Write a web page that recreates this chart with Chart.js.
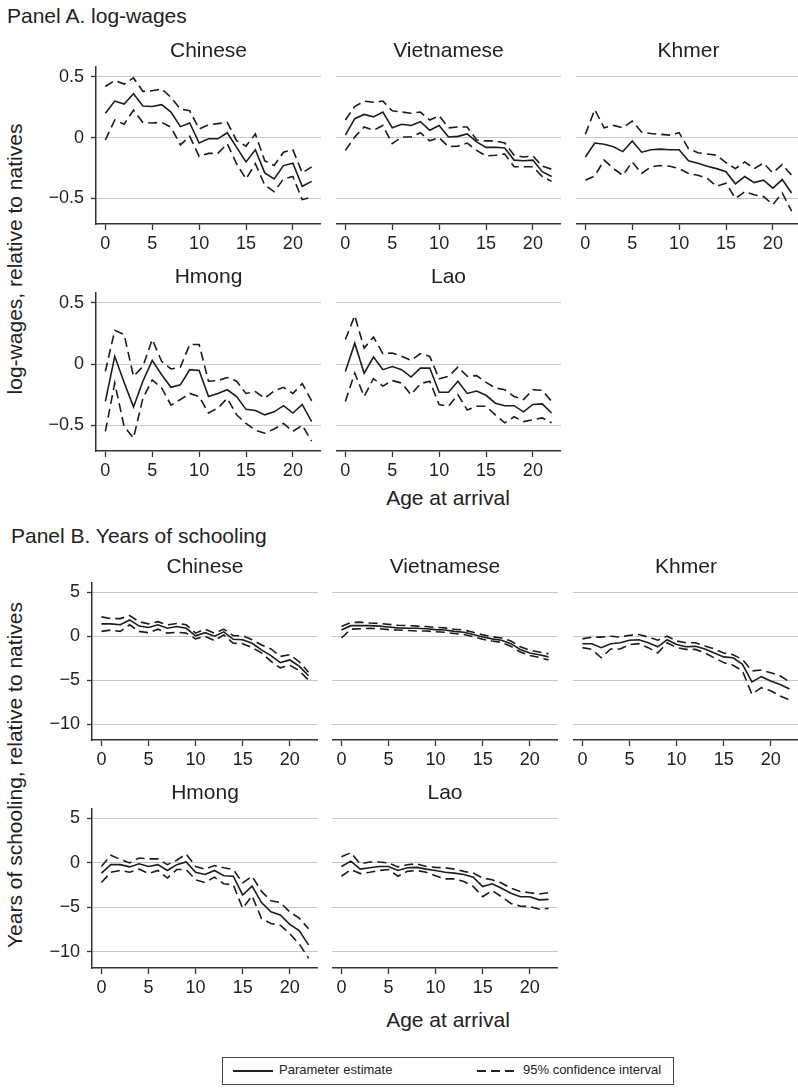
<!DOCTYPE html>
<html>
<head>
<meta charset="utf-8">
<script src="https://cdn.jsdelivr.net/npm/chart.js@4"></script>
<style>
html, body { margin:0; padding:0; background:#fff; width:798px; height:1091px; overflow:hidden; }
body { position:relative; font-family:"Liberation Sans", Arial, sans-serif; color:#222; }
canvas { position:absolute; }
.txt { position:absolute; white-space:nowrap; font-size:21px; line-height:1; }
.mid { transform:translate(-50%, -50%); }
.rot { transform:translate(-50%, -50%) rotate(-90deg); }
#legend { position:absolute; left:222px; top:1057px; width:452px; height:28px; border:1.5px solid #444; box-sizing:border-box; }
#legend .key { position:absolute; top:12px; width:40px; height:1.5px; }
#legend .solid { background:#222; }
#legend .dash { background:repeating-linear-gradient(to right, #222 0 9px, transparent 9px 14px); }
#legend .lt { position:absolute; top:5px; font-size:13px; line-height:1; white-space:nowrap; }
</style>
</head>
<body>
<div class="txt" style="left:7px; top:5px;">Panel A. log-wages</div>
<div class="txt rot" style="left:14px; top:259px;">log-wages, relative to natives</div>
<div class="txt mid" style="left:448px; top:497px;">Age at arrival</div>
<div class="txt" style="left:11px; top:525px;">Panel B. Years of schooling</div>
<div class="txt rot" style="left:14px; top:775px;">Years of schooling, relative to natives</div>
<div class="txt mid" style="left:448px; top:1019px;">Age at arrival</div>
<div id="legend">
  <div class="key solid" style="left:10px"></div>
  <div class="lt" style="left:56px">Parameter estimate</div>
  <div class="key dash" style="left:254px"></div>
  <div class="lt" style="left:300px">95% confidence interval</div>
</div>
<script>
// age at arrival, 0..22
const ages = [0,1,2,3,4,5,6,7,8,9,10,11,12,13,14,15,16,17,18,19,20,21,22];
const xTicks = [0,5,10,15,20];
const wageTicks = [-0.5,0,0.5];
const schoolTicks = [-10,-5,0,5];

// Panel A: log-wages
const chineseWageEst = [0.20,0.30,0.275,0.36,0.26,0.255,0.27,0.21,0.09,0.12,-0.045,-0.01,-0.01,0.04,-0.08,-0.20,-0.10,-0.29,-0.34,-0.23,-0.21,-0.40,-0.36];
const chineseWageHi  = [0.42,0.47,0.44,0.49,0.38,0.385,0.40,0.33,0.235,0.22,0.07,0.105,0.115,0.125,-0.025,-0.07,0.03,-0.19,-0.23,-0.12,-0.10,-0.29,-0.24];
const chineseWageLo  = [-0.02,0.145,0.11,0.225,0.125,0.12,0.125,0.085,-0.06,0.01,-0.155,-0.13,-0.13,-0.05,-0.215,-0.34,-0.215,-0.39,-0.445,-0.34,-0.32,-0.51,-0.49];

const vietWageEst = [0.02,0.155,0.19,0.17,0.21,0.08,0.11,0.10,0.13,0.06,0.10,0.005,0.01,0.03,-0.035,-0.08,-0.08,-0.085,-0.185,-0.19,-0.185,-0.28,-0.32];
const vietWageHi  = [0.145,0.255,0.30,0.29,0.30,0.22,0.21,0.20,0.21,0.145,0.18,0.08,0.087,0.087,-0.02,-0.027,-0.027,-0.045,-0.145,-0.16,-0.15,-0.235,-0.26];
const vietWageLo  = [-0.105,0.005,0.087,0.06,0.10,-0.05,0.005,0.005,0.04,-0.027,0,-0.075,-0.07,-0.045,-0.105,-0.15,-0.145,-0.135,-0.24,-0.24,-0.24,-0.32,-0.36];

const khmerWageEst = [-0.16,-0.045,-0.055,-0.075,-0.115,-0.027,-0.12,-0.10,-0.095,-0.10,-0.10,-0.19,-0.21,-0.235,-0.255,-0.28,-0.38,-0.32,-0.37,-0.35,-0.415,-0.345,-0.455];
const khmerWageHi  = [0.027,0.23,0.08,0.10,0.08,0.135,0.045,0.033,0.027,0.02,0.04,-0.09,-0.125,-0.135,-0.145,-0.205,-0.255,-0.20,-0.255,-0.21,-0.29,-0.22,-0.31];
const khmerWageLo  = [-0.35,-0.315,-0.185,-0.255,-0.31,-0.20,-0.295,-0.24,-0.23,-0.235,-0.255,-0.295,-0.31,-0.335,-0.40,-0.375,-0.50,-0.445,-0.47,-0.485,-0.55,-0.455,-0.605];

const hmongWageEst = [-0.305,0.063,-0.15,-0.35,-0.14,0.03,-0.087,-0.19,-0.17,-0.046,-0.052,-0.265,-0.24,-0.21,-0.265,-0.37,-0.38,-0.415,-0.39,-0.34,-0.40,-0.33,-0.47];
const hmongWageHi  = [-0.06,0.275,0.24,-0.10,-0.02,0.20,0.022,-0.04,-0.025,0.16,0.16,-0.14,-0.135,-0.11,-0.14,-0.24,-0.225,-0.28,-0.22,-0.19,-0.24,-0.16,-0.30];
const hmongWageLo  = [-0.55,-0.155,-0.51,-0.605,-0.28,-0.13,-0.195,-0.335,-0.29,-0.24,-0.265,-0.40,-0.36,-0.28,-0.415,-0.485,-0.54,-0.565,-0.53,-0.485,-0.55,-0.50,-0.63];

const laoWageEst = [-0.06,0.17,-0.075,0.057,-0.046,-0.02,-0.046,-0.106,-0.033,-0.033,-0.23,-0.23,-0.14,-0.24,-0.22,-0.255,-0.32,-0.34,-0.34,-0.39,-0.33,-0.325,-0.40];
const laoWageHi  = [0.20,0.395,0.13,0.22,0.085,0.09,0.063,0.03,0.085,0.063,-0.12,-0.10,-0.025,-0.10,-0.095,-0.15,-0.195,-0.21,-0.265,-0.29,-0.21,-0.215,-0.305];
const laoWageLo  = [-0.305,-0.074,-0.265,-0.12,-0.18,-0.135,-0.155,-0.25,-0.16,-0.14,-0.33,-0.345,-0.25,-0.375,-0.345,-0.345,-0.415,-0.48,-0.43,-0.47,-0.455,-0.44,-0.48];

// Panel B: years of schooling
const chineseSchEst = [1.4,1.4,1.3,1.85,1.15,1.0,1.3,0.9,1.1,0.9,0.05,0.4,0,0.5,-0.35,-0.4,-0.8,-1.55,-2.2,-3.0,-2.7,-3.4,-4.5];
const chineseSchHi  = [2.2,2.0,2.0,2.35,1.65,1.4,1.65,1.3,1.45,1.3,0.35,0.8,0.35,0.8,0.05,0.05,-0.4,-1.0,-1.45,-2.3,-2.1,-2.9,-4.1];
const chineseSchLo  = [0.55,0.7,0.55,1.3,0.55,0.4,0.8,0.35,0.45,0.35,-0.3,0,-0.5,0.15,-0.8,-0.85,-1.3,-1.9,-2.85,-3.6,-3.3,-3.9,-5.0];

const vietSchEst = [0.7,1.2,1.2,1.2,1.15,1.05,0.95,0.9,0.9,0.85,0.75,0.7,0.55,0.45,0.2,-0.1,-0.3,-0.45,-0.85,-1.5,-1.9,-2.1,-2.35];
const vietSchHi  = [1.1,1.55,1.6,1.5,1.45,1.35,1.25,1.2,1.15,1.1,1.0,0.95,0.8,0.7,0.45,0.15,-0.05,-0.2,-0.55,-1.2,-1.6,-1.8,-2.0];
const vietSchLo  = [-0.2,0.8,0.85,0.9,0.85,0.75,0.7,0.65,0.6,0.6,0.5,0.45,0.3,0.2,-0.05,-0.35,-0.55,-0.7,-1.15,-1.8,-2.2,-2.4,-2.7];

const khmerSchEst = [-0.85,-0.85,-1.3,-0.85,-0.75,-0.45,-0.4,-0.75,-1.2,-0.4,-0.95,-1.2,-1.15,-1.45,-1.9,-2.35,-2.45,-3.2,-5.2,-4.6,-5.1,-5.5,-6.0];
const khmerSchHi  = [-0.3,-0.1,-0.1,0,-0.1,0.1,0.2,-0.1,-0.45,0,-0.55,-0.75,-0.75,-1.1,-1.45,-1.9,-2.1,-2.65,-3.95,-3.85,-4.15,-4.5,-5.2];
const khmerSchLo  = [-1.3,-1.5,-2.45,-1.45,-1.45,-0.95,-0.85,-1.3,-1.9,-0.75,-1.3,-1.5,-1.5,-1.9,-2.45,-3.0,-3.3,-3.95,-6.6,-5.85,-6.2,-6.8,-7.25];

const hmongSchEst = [-1.15,-0.2,-0.2,-0.45,-0.1,-0.4,-0.2,-0.85,-0.2,0.1,-1.05,-1.3,-0.85,-1.45,-1.5,-3.6,-2.6,-4.45,-5.5,-5.85,-6.9,-7.6,-9.2];
const hmongSchHi  = [-0.4,0.85,0.4,0,0.55,0.45,0.45,-0.2,0.3,1.0,-0.4,-0.7,-0.3,-0.55,-0.75,-2.25,-1.5,-3.2,-4.25,-4.45,-5.5,-6.2,-7.4];
const hmongSchLo  = [-2.2,-1.05,-0.85,-1.05,-0.7,-1.2,-0.85,-1.7,-0.75,-0.75,-1.9,-2.2,-1.6,-2.35,-2.45,-5.1,-3.7,-6.25,-6.8,-7.0,-7.95,-9.1,-10.7];

const laoSchEst = [-0.4,0.2,-0.7,-0.55,-0.4,-0.4,-0.85,-0.55,-0.5,-0.7,-0.85,-1.05,-1.15,-1.3,-1.6,-2.65,-2.35,-2.85,-3.4,-3.8,-3.8,-4.15,-4.1];
const laoSchHi  = [0.7,1.15,-0.1,0.1,0.1,0,-0.45,-0.2,-0.1,-0.4,-0.5,-0.55,-0.7,-0.95,-1.15,-1.7,-1.9,-2.25,-2.85,-3.2,-3.35,-3.5,-3.35];
const laoSchLo  = [-1.5,-0.75,-1.2,-1.05,-0.85,-0.75,-1.5,-0.95,-0.85,-1.05,-1.45,-1.8,-1.8,-2.1,-2.65,-3.8,-3.1,-3.8,-4.55,-4.85,-4.9,-5.2,-5.1];

Chart.defaults.font.family = '"Liberation Sans", Arial, sans-serif';
Chart.defaults.color = '#222';

const INK = '#1c1c1c';
const minus = v => v < 0 ? '\u2212' + Math.abs(v) : String(v);

function makePanel(p) {
  const yw = p.col === 0 ? 60 : 0;
  const w = p.w + yw, h = p.h + 40 + 36;
  const cv = document.createElement('canvas');
  cv.width = w; cv.height = h;
  cv.style.left = (p.left - yw) + 'px';
  cv.style.top = (p.top - 40) + 'px';
  cv.style.width = w + 'px';
  cv.style.height = h + 'px';
  document.body.appendChild(cv);
  const pts = arr => ages.map((a, i) => ({x: a, y: arr[i]}));
  const dashed = arr => ({data: pts(arr), borderColor: INK, borderWidth: 1.6, borderDash: [9, 5], pointRadius: 0, tension: 0});
  new Chart(cv, {
    type: 'line',
    data: {
      datasets: [
        dashed(p.lo),
        {data: pts(p.est), borderColor: INK, borderWidth: 1.6, pointRadius: 0, tension: 0},
        dashed(p.hi)
      ]
    },
    options: {
      responsive: false,
      animation: false,
      devicePixelRatio: 1,
      layout: {padding: 0},
      plugins: {
        legend: {display: false},
        tooltip: {enabled: false},
        title: {display: true, text: p.title, fullSize: false, color: '#222',
                font: {size: 21, weight: 'normal'}, padding: {top: 12, bottom: 2.8}}
      },
      scales: {
        x: {
          type: 'linear', min: -1, max: 23,
          afterBuildTicks: s => { s.ticks = xTicks.map(v => ({value: v})); },
          afterFit: s => { s.height = 36; },
          ticks: {font: {size: 18}, color: '#222', padding: 3, maxRotation: 0, autoSkip: false},
          grid: {drawOnChartArea: false, drawTicks: true, tickLength: 6, tickColor: '#333', tickWidth: 1.3},
          border: {display: true, color: '#333', width: 1.5}
        },
        y: {
          type: 'linear', min: p.yMin, max: p.yMax,
          afterBuildTicks: s => { s.ticks = p.yTicks.map(v => ({value: v})); },
          afterFit: s => { s.width = yw; },
          ticks: {display: p.col === 0, font: {size: 18}, color: '#222', padding: 7, callback: minus},
          grid: {color: '#c8c8c8', lineWidth: 1, drawTicks: p.col === 0, tickLength: 5, tickColor: '#333', tickWidth: 1.3},
          border: {display: p.col === 0, color: '#333', width: 1.5}
        }
      }
    }
  });
}

const aCols = [96, 336, 576], bCols = [92, 332, 573];
const aRows = [{top: 67, h: 157}, {top: 293, h: 158}];
const bRows = [{top: 583, h: 157}, {top: 809, h: 159}];
const aY = {yMin: -0.71, yMax: 0.58, yTicks: wageTicks};
const bY = {yMin: -11.8, yMax: 6.05, yTicks: schoolTicks};

const panelsA = [
  {title: 'Chinese', est: chineseWageEst, hi: chineseWageHi, lo: chineseWageLo, r: 0, col: 0},
  {title: 'Vietnamese', est: vietWageEst, hi: vietWageHi, lo: vietWageLo, r: 0, col: 1},
  {title: 'Khmer', est: khmerWageEst, hi: khmerWageHi, lo: khmerWageLo, r: 0, col: 2},
  {title: 'Hmong', est: hmongWageEst, hi: hmongWageHi, lo: hmongWageLo, r: 1, col: 0},
  {title: 'Lao', est: laoWageEst, hi: laoWageHi, lo: laoWageLo, r: 1, col: 1}
];
const panelsB = [
  {title: 'Chinese', est: chineseSchEst, hi: chineseSchHi, lo: chineseSchLo, r: 0, col: 0},
  {title: 'Vietnamese', est: vietSchEst, hi: vietSchHi, lo: vietSchLo, r: 0, col: 1},
  {title: 'Khmer', est: khmerSchEst, hi: khmerSchHi, lo: khmerSchLo, r: 0, col: 2},
  {title: 'Hmong', est: hmongSchEst, hi: hmongSchHi, lo: hmongSchLo, r: 1, col: 0},
  {title: 'Lao', est: laoSchEst, hi: laoSchHi, lo: laoSchLo, r: 1, col: 1}
];

panelsA.forEach(p => makePanel(Object.assign({}, p, aY, {left: aCols[p.col], w: 225, top: aRows[p.r].top, h: aRows[p.r].h})));
panelsB.forEach(p => makePanel(Object.assign({}, p, bY, {left: bCols[p.col], w: 226, top: bRows[p.r].top, h: bRows[p.r].h})));
</script>
</body>
</html>
